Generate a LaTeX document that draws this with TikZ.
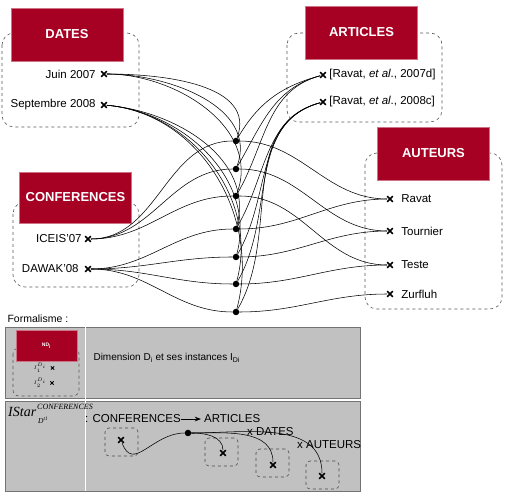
\documentclass[tikz,border=0pt]{standalone}
\usepackage{fontspec}
\setmainfont{Liberation Sans}
\newfontfamily\starfont{Liberation Serif}
\usetikzlibrary{arrows.meta,positioning,shapes.misc}
\definecolor{dimred}{RGB}{166,0,35}
\definecolor{panelgray}{RGB}{193,193,193}

\begin{document}
\begin{tikzpicture}[
  x=1pt,y=-1pt,
  font=\fontsize{11.5}{13}\selectfont,
  >={Stealth[length=2.2mm]},
  head/.style={fill=dimred,draw=dimred!55,text=white,font=\fontsize{13}{15}\selectfont\bfseries,minimum width=112pt,minimum height=53pt,inner sep=0pt},
  grp/.style={draw=black!65,dashed,rounded corners=12pt,line width=0.6pt},
  inst/.style={cross out,draw,line width=1.7pt,minimum size=4pt,inner sep=0pt},
  fact/.style={circle,fill,inner sep=0pt,minimum size=6.5pt},
  link/.style={line width=0.55pt},
  panel/.style={fill=panelgray,draw=black!55,line width=0.7pt},
  ibox/.style={draw=black!70,dashed,rounded corners=4pt,minimum width=33pt,minimum height=28pt,line width=0.6pt},
  star/.style={anchor=base west,inner sep=0pt,font=\starfont\itshape\fontsize{#1}{#1}\selectfont}
]
\useasboundingbox (0,0) rectangle (507,497);

\draw[grp] (2,33) rectangle (139,127);
\draw[grp] (287,33) rectangle (442,122);
\draw[grp] (365,153) rectangle (502,309);
\draw[grp] (13,202) rectangle (139,287);

\node[head] (dates) at (67,34.5) {DATES};
\node[head] (articles) at (361.5,32.5) {ARTICLES};
\node[head] (auteurs) at (433.5,153.5) {AUTEURS};
\node[head,minimum height=51pt] (conferences) at (75.5,197.5) {CONFERENCES};

\node[inst,label={[label distance=2pt]left:Juin 2007}] (juin) at (104,74) {};
\node[inst,label={[label distance=2pt]left:Septembre 2008}] (sept) at (104,105) {};
\node[inst,label={[label distance=0pt]right:{[Ravat, \textit{et al}., 2007d]}}] (art07) at (323,75) {};
\node[inst,label={[label distance=0pt]right:{[Ravat, \textit{et al}., 2008c]}}] (art08) at (323,102) {};
\node[inst,label={[label distance=0pt]left:ICEIS’07}] (iceis) at (88,239) {};
\node[inst,label={[label distance=3pt]left:DAWAK’08}] (dawak) at (88,269) {};
\node[inst,label={[label distance=5pt]right:Ravat}] (ravat) at (390,199) {};
\node[inst,label={[label distance=5pt]right:Tournier}] (tournier) at (390,231) {};
\node[inst,label={[label distance=5pt]right:Teste}] (teste) at (390,265) {};
\node[inst,label={[label distance=5pt]right:Zurfluh}] (zurfluh) at (390,294) {};

\foreach \i/\y in {1/141,2/169,3/196,4/229,5/257,6/284,7/312}
  \node[fact] (f\i) at (236,\y) {};

\foreach \i in {1,2,3} {
  \draw[link] (iceis) to[out=0,in=180] (f\i);
  \draw[link] (juin) to[out=0,in=70] (f\i);
  \draw[link] (art07) to[out=195,in=60] (f\i);
}
\foreach \i in {4,...,7} {
  \draw[link] (dawak) to[out=0,in=180] (f\i);
  \draw[link] (sept) to[out=-5,in=75] (f\i);
  \draw[link] (art08) to[out=195,in=60] (f\i);
}
\foreach \i/\a in {1/ravat,4/ravat,2/tournier,5/tournier,3/teste,6/teste,7/zurfluh}
  \draw[link] (f\i) to[out=0,in=180] (\a);

\node[anchor=base west,font=\fontsize{10.5}{12}\selectfont] (formalisme) at (4,323) {Formalisme :};
\draw[panel] (5,327) rectangle (360,398);
\draw[panel] (5,401) rectangle (360,491);
\draw[white,line width=1pt] (85.5,327) -- (85.5,491);

\draw[grp,rounded corners=6pt] (13,348) rectangle (79,396);
\node[head,minimum width=61pt,minimum height=31pt,font=\fontsize{5}{6}\selectfont\bfseries] (legdim) at (46.5,345.5) {ND\textsubscript{i}};
\node[font=\fontsize{5}{6}\selectfont] (leg1) at (40,368) {$I_1^{D_i}$};
\node[inst,minimum size=2.5pt,line width=0.8pt,right=1pt of leg1] (legx1) {};
\node[font=\fontsize{5}{6}\selectfont] (leg2) at (40,383) {$I_2^{D_i}$};
\node[inst,minimum size=2.5pt,line width=0.8pt,right=0.5pt of leg2] (legx2) {};
\node[anchor=base west,font=\fontsize{10}{12}\selectfont] (legtext) at (90,361) {Dimension D\textsubscript{i} et ses instances I\textsubscript{Di}};

\node[star=14] (istar) at (8,417) {IStar};
\node[star=8] (istarsup) at (37,410) {CONFERENCES};
\node[star=7.5] (istarsub) at (38,424) {D\textsuperscript{t1}};
\node[anchor=base west,inner sep=0pt] (lconf) at (85,423) {: CONFERENCES};
\node[anchor=base west,inner sep=0pt] (lart) at (204,423) {ARTICLES};
\draw[->,line width=0.9pt] (lconf.east) -- ([xshift=-3pt]lart.west);
\node[anchor=base west,inner sep=0pt] (ldates) at (247,436) {x DATES};
\node[anchor=base west,inner sep=0pt] (lauteurs) at (297,449) {x AUTEURS};

\node[fact] (dot) at (188,433) {};
\node[ibox] (b1) at (121.5,442) {};
\node[ibox] (b2) at (221.5,452) {};
\node[ibox] (b3) at (272.5,463) {};
\node[ibox] (b4) at (322.5,475) {};
\node[inst] (x1) at (121,440) {};
\node[inst] (x2) at (223,453) {};
\node[inst] (x3) at (273,465) {};
\node[inst] (x4) at (322,476) {};
\draw[link] (x1) to[out=-70,in=180,looseness=1.3] (dot);
\draw[link] (dot) to[out=0,in=90] (x2);
\draw[link] (dot) to[out=0,in=90] (x3);
\draw[link] (dot) to[out=0,in=90] (x4);
\end{tikzpicture}
\end{document}
